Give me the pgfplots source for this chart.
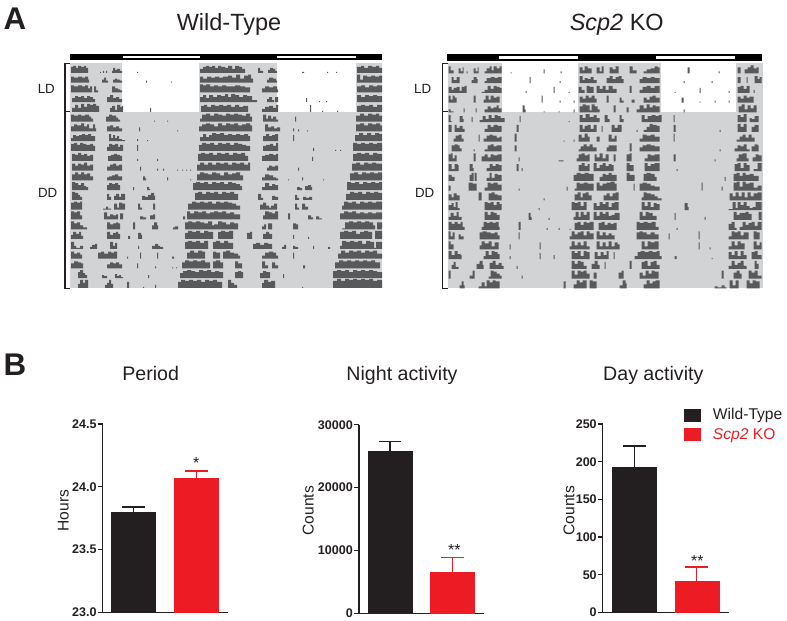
\documentclass[border=0pt]{standalone}
\usepackage{fontspec}
\setmainfont{Liberation Sans}
\usepackage{pgfplots}
\pgfplotsset{compat=1.18}
\definecolor{actogray}{HTML}{58595B}
\definecolor{bg}{HTML}{D1D3D4}
\definecolor{blk}{HTML}{231F20}
\definecolor{rd}{HTML}{ED1C24}
\makeatletter
\newif\ifRnew
\def\Rloop(#1,#2){\ifx\relax#1\else
  \ifRnew\xdef\Racc{\Racc(#1,0)(#1,#2)}\global\Rnewfalse
  \else\ifnum#2=0\relax\xdef\Racc{\Racc(#1,0)(#1,nan)}\global\Rnewtrue
  \else\xdef\Racc{\Racc(#1,#2)}\fi\fi
  \expandafter\Rloop\fi}
\newcommand\R[2]{\gdef\Racc{}\global\Rnewtrue\Rloop#2(\relax,0)%
  \edef\Rdo{\noexpand\addplot[fill=actogray,draw=none,const plot,forget plot,unbounded coords=jump,y filter/.expression={y-#1}] coordinates {\Racc};}\Rdo}
\makeatother
\newcommand\B[1]{\addplot[fill=#1,draw=none,forget plot]}
\pgfplotsset{actoaxis/.style={scale only axis,width=234pt,height=168.75pt,xmin=0,xmax=312,ymin=-225,ymax=0,axis lines=none,clip=false,anchor=south west},
 bars/.style={scale only axis,height=141.3pt,anchor=south west,axis x line=bottom,axis y line=left,axis line style={-,line width=0.95pt,blk},
  xtick=\empty,tick align=outside,major tick length=3.4pt,ytick style={line width=0.95pt,blk},
  yticklabel style={font=\bfseries\fontsize{9.4}{10}\selectfont,text=blk,inner sep=1pt},ymin=0,clip=false},
 errb/.style={error bars/.cd,y dir=plus,y explicit,error bar style={line width=1.0pt,#1},error mark options={rotate=90,mark size=8.5pt,line width=1.0pt,#1}}}
\begin{document}
\begin{tikzpicture}[x=0.75pt,y=0.75pt]
\path[use as bounding box] (0,0) rectangle (787,620);
\node[font=\bfseries\fontsize{23.5}{24}\selectfont,text=blk] at (15,601) {A};
\node[font=\bfseries\fontsize{23.5}{24}\selectfont,text=blk] at (15,255.5) {B};
\node[anchor=base,font=\fontsize{17.6}{20}\selectfont,text=blk] at (229,589) {Wild-Type};
\node[anchor=base,font=\fontsize{17.6}{20}\selectfont,text=blk] at (616.7,589) {\textit{Scp2} KO};
\foreach \xa/\xb in {46.3/47.7,422.7/424.7}{
\node[font=\fontsize{10}{12}\selectfont,text=blk] at (\xa,531) {LD};
\node[font=\fontsize{10}{12}\selectfont,text=blk] at (\xb,426.7) {DD};}
\draw[line width=1.05pt,blk] (70,556.7)--(65,556.7)--(65,331.5)--(70,331.5) (65,508.7)--(70,508.7);
\draw[line width=1.05pt,blk] (448,556.7)--(442.3,556.7)--(442.3,331.5)--(448,331.5) (442.3,508.7)--(448,508.7);
% ---- left actogram
\begin{axis}[actoaxis,at={(70,332)}]
\B{bg} coordinates {(0,0)(312,0)(312,-225)(0,-225)} --cycle;
\B{white} coordinates {(51.7,0)(129.3,0)(129.3,-48.9)(51.7,-48.9)} --cycle;
\B{white} coordinates {(206.7,0)(286,0)(286,-48.9)(206.7,-48.9)} --cycle;
\B{black} coordinates {(0,9)(312,9)(312,2.7)(0,2.7)} --cycle;
\B{white} coordinates {(53.3,7.2)(130,7.2)(130,4.8)(53.3,4.8)} --cycle;
\B{white} coordinates {(206.7,7.2)(286,7.2)(286,4.8)(206.7,4.8)} --cycle;
\R{9.8}{(1,6)(3,7)(6,5)(8,7)(11,6)(14,7)(16,5)(18,0)(30,1)(31,0)(33,2)(34,0)(36,2)(37,0)(42,2)(43,5)(45,3)(47,4)(50,2)(52,0)(67,1)(68,0)(130,4)(133,6)(136,7)(139,6)(142,7)(145,5)(148,7)(151,6)(155,5)(158,7)(162,4)(165,7)(169,6)(172,4)(175,0)(188,5)(190,2)(193,0)(198,3)(200,5)(203,4)(205,2)(207,0)(232,1)(234,0)(257,1)(258,0)(266,1)(267,0)(287,6)(291,7)(294,5)(298,7)(302,6)(306,7)(309,5)(312,0)}
\R{19.6}{(1,6)(4,5)(8,6)(12,5)(15,6)(18,3)(19,0)(32,3)(34,5)(36,2)(38,0)(43,3)(45,4)(47,3)(50,2)(52,0)(76,2)(77,0)(101,1)(102,0)(130,6)(133,4)(137,6)(141,5)(145,6)(149,5)(153,6)(158,7)(162,5)(166,8)(170,4)(174,7)(178,8)(181,4)(183,0)(197,3)(199,5)(203,4)(206,2)(207,0)(287,8)(290,3)(293,7)(297,6)(301,7)(305,6)(309,7)(312,0)}
\R{29.3}{(1,7)(4,6)(8,7)(12,6)(15,7)(18,4)(20,6)(22,0)(24,6)(26,2)(28,0)(42,6)(45,4)(48,3)(50,2)(52,0)(130,8)(133,7)(136,8)(140,6)(144,7)(148,6)(152,7)(156,6)(160,6)(165,7)(170,6)(175,5)(180,0)(192,4)(195,6)(199,5)(203,6)(207,3)(208,0)(287,6)(291,7)(295,5)(299,7)(303,6)(307,7)(312,0)}
\R{39.1}{(2,4)(5,6)(8,5)(11,6)(14,4)(17,6)(20,5)(23,3)(25,0)(37,5)(40,7)(43,4)(46,5)(49,3)(52,0)(130,5)(133,7)(136,4)(139,7)(143,5)(147,7)(151,6)(155,8)(158,5)(161,8)(165,7)(169,5)(173,7)(177,6)(182,2)(187,0)(197,3)(199,5)(202,2)(204,0)(205,5)(208,0)(236,4)(237,0)(249,1)(250,0)(256,1)(257,0)(287,7)(291,5)(295,7)(299,6)(303,7)(307,6)(312,0)}
\R{48.9}{(2,4)(5,7)(8,4)(11,8)(14,5)(17,8)(20,7)(23,8)(26,6)(29,0)(40,4)(42,6)(45,2)(47,7)(50,5)(52,6)(53,0)(80,4)(81,0)(131,6)(134,7)(137,5)(141,7)(145,6)(149,7)(153,6)(157,7)(161,5)(165,7)(169,5)(173,6)(178,0)(192,3)(195,5)(199,6)(203,4)(206,7)(208,0)(240,7)(241,0)(252,1)(253,0)(267,1)(268,0)(287,6)(291,7)(295,6)(299,7)(303,5)(307,7)(312,0)}
\R{58.7}{(1,7)(4,6)(8,7)(11,6)(15,7)(19,5)(21,3)(23,0)(36,5)(39,7)(42,6)(46,4)(48,2)(50,0)(84,1)(85,0)(97,1)(98,0)(130,3)(132,7)(136,8)(140,6)(144,8)(148,7)(152,6)(156,8)(160,7)(164,8)(168,7)(172,6)(176,8)(180,5)(182,0)(193,7)(196,3)(198,6)(201,3)(203,5)(206,2)(208,0)(225,5)(226,0)(286,6)(290,8)(294,6)(298,8)(302,7)(306,8)(309,6)(312,0)}
\R{68.5}{(1,5)(4,7)(7,6)(11,8)(14,5)(17,7)(19,3)(23,7)(25,3)(26,0)(37,5)(40,6)(43,4)(46,5)(49,3)(52,0)(69,4)(70,0)(107,1)(108,0)(129,5)(132,7)(136,8)(140,7)(144,5)(148,8)(152,6)(156,8)(160,7)(164,8)(168,6)(172,7)(176,8)(180,6)(182,0)(195,7)(198,4)(201,5)(204,3)(207,4)(210,0)(223,3)(224,0)(228,2)(229,0)(237,1)(238,0)(286,7)(290,8)(294,6)(298,8)(302,7)(306,8)(310,6)(312,0)}
\R{78.2}{(1,3)(3,6)(6,5)(9,6)(12,7)(15,6)(18,7)(21,5)(25,0)(39,7)(41,3)(43,6)(45,3)(47,5)(49,2)(52,1)(55,0)(67,2)(68,0)(77,1)(78,0)(130,4)(133,7)(136,4)(139,6)(142,8)(146,7)(150,8)(154,6)(158,7)(162,6)(166,7)(170,6)(174,7)(178,5)(180,0)(193,5)(196,7)(199,5)(202,6)(205,7)(208,0)(223,6)(224,0)(285,6)(289,8)(293,6)(297,8)(301,6)(305,8)(309,7)(312,0)}
\R{88}{(1,7)(4,8)(7,6)(10,8)(13,7)(16,6)(20,7)(23,5)(25,0)(37,4)(39,7)(42,6)(45,7)(48,4)(50,6)(53,0)(67,6)(68,0)(129,6)(132,8)(136,7)(140,8)(144,6)(148,8)(152,7)(156,8)(160,6)(164,8)(168,7)(172,6)(176,5)(180,0)(193,5)(196,6)(200,7)(203,5)(206,8)(208,0)(243,3)(244,0)(265,1)(266,0)(270,1)(271,0)(283,8)(287,7)(291,8)(295,7)(299,8)(303,7)(307,8)(312,0)}
\R{97.8}{(2,7)(5,6)(8,8)(11,6)(14,7)(17,5)(20,6)(23,0)(38,5)(41,6)(44,7)(47,6)(50,5)(52,0)(67,2)(68,0)(87,2)(88,0)(128,7)(131,8)(135,7)(139,8)(143,6)(147,8)(151,7)(155,8)(159,6)(163,8)(167,7)(171,8)(175,5)(178,0)(192,5)(195,6)(199,7)(203,6)(206,7)(208,0)(242,4)(243,0)(283,7)(287,8)(291,7)(295,8)(299,6)(303,8)(307,7)(312,0)}
\R{107.6}{(2,7)(5,5)(8,7)(11,6)(14,8)(17,5)(20,6)(23,0)(37,4)(40,6)(43,7)(46,5)(49,6)(52,0)(70,4)(71,0)(87,2)(88,0)(93,2)(94,0)(107,1)(108,0)(112,1)(113,0)(116,1)(117,0)(120,1)(121,0)(127,6)(130,8)(134,6)(138,8)(142,6)(146,8)(150,7)(154,8)(158,6)(162,8)(166,7)(170,8)(174,6)(178,8)(180,0)(197,3)(199,5)(202,4)(205,5)(208,0)(228,3)(229,0)(282,7)(286,8)(290,6)(294,8)(298,7)(302,8)(306,7)(312,0)}
\R{117.4}{(2,6)(5,8)(8,6)(11,8)(14,6)(17,7)(20,4)(23,0)(37,3)(39,4)(42,5)(45,6)(48,4)(52,0)(73,4)(75,2)(76,0)(97,3)(98,0)(120,1)(121,0)(127,6)(130,8)(134,7)(138,6)(142,8)(146,7)(150,5)(154,8)(158,6)(162,7)(166,8)(170,5)(173,0)(192,3)(195,6)(199,5)(203,3)(206,2)(208,0)(218,1)(219,0)(232,3)(233,0)(253,1)(254,0)(280,7)(284,8)(288,6)(292,8)(296,7)(300,8)(304,7)(308,8)(312,0)}
\R{127.1}{(2,8)(5,7)(8,5)(11,7)(14,4)(16,3)(18,0)(37,5)(39,7)(42,6)(45,7)(48,5)(50,0)(63,3)(64,0)(77,3)(79,1)(80,0)(123,7)(126,8)(130,7)(134,8)(138,6)(142,8)(146,7)(150,8)(154,6)(158,8)(162,7)(166,6)(170,4)(172,0)(192,3)(195,7)(199,4)(202,6)(205,5)(208,0)(227,3)(230,2)(232,0)(235,4)(238,5)(241,3)(242,0)(277,8)(281,7)(285,8)(289,6)(293,8)(297,7)(301,8)(305,7)(309,8)(312,0)}
\R{136.9}{(2,8)(5,7)(8,5)(10,3)(12,0)(37,6)(39,3)(41,0)(44,4)(46,6)(49,3)(51,6)(55,0)(72,4)(75,3)(78,5)(81,7)(84,4)(85,0)(125,7)(128,8)(132,6)(136,8)(140,7)(144,8)(148,6)(152,8)(156,7)(160,8)(164,6)(168,0)(188,6)(191,2)(193,0)(202,4)(205,3)(208,0)(225,5)(227,2)(229,0)(233,3)(236,2)(239,3)(242,0)(276,6)(280,8)(284,7)(288,8)(292,6)(296,8)(300,7)(304,8)(308,7)(312,0)}
\R{146.7}{(1,7)(4,8)(7,7)(10,8)(12,0)(33,1)(36,3)(38,1)(41,0)(44,6)(47,2)(49,7)(52,6)(55,0)(68,6)(70,2)(72,0)(83,6)(85,0)(118,6)(122,8)(126,7)(130,8)(134,7)(138,8)(142,6)(146,8)(150,7)(154,8)(158,7)(162,6)(166,4)(170,0)(190,5)(193,7)(196,4)(199,2)(201,4)(204,6)(207,0)(225,6)(227,2)(229,0)(232,6)(235,3)(238,0)(272,4)(274,8)(278,7)(282,8)(286,6)(290,8)(294,7)(298,8)(302,7)(306,8)(312,0)}
\R{156.5}{(1,8)(4,7)(7,8)(10,4)(12,0)(34,7)(37,3)(40,5)(43,4)(46,5)(48,0)(50,6)(53,0)(70,3)(73,2)(76,0)(80,4)(83,5)(85,0)(113,3)(115,0)(117,8)(120,6)(124,8)(128,7)(132,8)(136,6)(140,7)(144,8)(148,7)(152,8)(156,6)(160,7)(164,5)(170,0)(193,4)(195,8)(199,7)(202,6)(205,8)(208,0)(218,6)(220,0)(238,4)(241,2)(243,0)(246,3)(249,1)(252,0)(270,6)(274,8)(278,7)(282,8)(286,6)(290,7)(294,6)(298,7)(302,6)(306,7)(312,0)}
\R{166.3}{(1,8)(4,6)(7,7)(10,4)(13,2)(17,0)(37,7)(40,5)(43,6)(46,7)(48,6)(50,0)(63,7)(65,0)(82,4)(84,7)(87,4)(88,0)(103,2)(105,3)(108,0)(115,7)(118,8)(122,7)(126,8)(130,7)(134,6)(138,8)(142,4)(144,5)(148,8)(152,7)(156,5)(160,7)(164,6)(168,0)(192,3)(194,5)(196,0)(198,6)(202,0)(223,6)(226,5)(228,0)(272,1)(275,7)(279,8)(283,7)(287,8)(291,7)(295,8)(299,7)(303,4)(305,0)(307,7)(312,0)}
\R{176}{(1,4)(3,7)(6,5)(9,7)(11,3)(13,0)(37,7)(40,4)(43,6)(46,7)(48,5)(50,0)(58,3)(60,0)(68,6)(71,4)(72,0)(115,6)(118,8)(122,7)(126,8)(130,6)(134,8)(138,7)(143,0)(148,7)(151,8)(155,7)(159,8)(163,0)(177,6)(180,7)(182,0)(193,5)(196,7)(199,5)(202,0)(223,4)(224,0)(238,2)(239,0)(270,7)(274,8)(278,7)(282,8)(286,5)(290,7)(294,8)(298,7)(302,0)(305,8)(312,0)}
\R{185.8}{(1,7)(4,3)(6,1)(10,3)(13,0)(20,2)(22,4)(25,5)(27,0)(40,7)(43,3)(45,6)(47,0)(68,3)(69,0)(82,3)(85,5)(88,3)(90,2)(93,0)(115,7)(118,8)(122,7)(126,8)(130,6)(134,8)(138,0)(143,7)(146,8)(150,6)(154,8)(158,6)(163,0)(183,5)(186,6)(190,4)(194,6)(198,5)(202,0)(212,2)(214,4)(216,0)(223,3)(225,2)(228,0)(243,3)(244,0)(258,2)(260,0)(270,3)(272,8)(276,7)(280,8)(284,7)(288,8)(292,5)(296,8)(300,7)(304,1)(306,7)(312,0)}
\R{195.6}{(1,7)(4,5)(7,6)(10,4)(12,0)(28,6)(31,7)(34,5)(38,7)(41,6)(44,7)(47,0)(57,2)(58,0)(70,6)(71,0)(87,6)(88,0)(102,2)(104,0)(117,6)(120,8)(124,6)(128,8)(132,7)(135,0)(143,7)(146,6)(150,0)(153,7)(156,8)(160,6)(164,5)(168,3)(170,0)(192,3)(195,6)(199,7)(203,6)(206,3)(208,0)(223,6)(224,0)(268,5)(271,8)(275,6)(279,8)(283,7)(287,8)(291,6)(295,8)(299,7)(303,8)(307,5)(312,0)}
\R{205.4}{(1,5)(4,7)(8,6)(11,5)(13,0)(37,4)(40,6)(43,5)(46,6)(49,4)(52,0)(67,5)(68,0)(85,2)(86,0)(102,1)(103,0)(106,1)(107,0)(112,6)(115,8)(119,7)(123,8)(127,7)(131,8)(135,6)(140,0)(143,7)(146,8)(150,6)(153,0)(165,7)(168,5)(172,0)(192,7)(195,3)(198,0)(202,6)(205,3)(208,0)(233,3)(235,0)(265,6)(269,8)(273,7)(277,8)(281,7)(285,8)(289,7)(293,8)(297,7)(301,8)(305,6)(310,0)}
\R{215.2}{(8,6)(10,8)(13,5)(15,3)(17,0)(32,3)(34,2)(37,0)(45,4)(47,2)(49,3)(51,1)(53,0)(78,3)(79,0)(110,5)(113,7)(117,8)(121,7)(125,6)(129,8)(133,7)(137,8)(141,6)(145,7)(149,6)(153,0)(165,6)(168,7)(171,6)(173,0)(190,5)(193,7)(196,6)(200,0)(213,4)(214,0)(263,7)(267,8)(271,7)(275,8)(279,6)(283,8)(287,7)(291,8)(295,7)(299,8)(303,7)(307,6)(312,0)}
\R{225}{(8,4)(10,8)(13,5)(15,8)(18,0)(35,3)(37,5)(39,8)(41,4)(43,0)(57,6)(59,0)(73,1)(74,0)(85,3)(86,0)(108,6)(111,8)(115,7)(119,8)(123,7)(127,8)(131,6)(135,8)(139,7)(143,8)(147,6)(152,0)(158,8)(161,5)(164,3)(167,0)(192,5)(194,8)(198,6)(201,7)(205,0)(232,1)(233,0)(263,7)(267,9)(271,7)(275,9)(279,8)(283,9)(287,8)(291,9)(295,8)(299,9)(303,7)(307,8)(312,0)}
\end{axis}
% ---- right actogram
\begin{axis}[actoaxis,at={(447.7,331.5)},width=236.25pt,xmax=315]
\B{bg} coordinates {(0,0)(315,0)(315,-225)(0,-225)} --cycle;
\B{white} coordinates {(54.7,0)(130.7,0)(130.7,-48.9)(54.7,-48.9)} --cycle;
\B{white} coordinates {(213.3,0)(288.3,0)(288.3,-48.9)(213.3,-48.9)} --cycle;
\B{black} coordinates {(-1,9)(314.6,9)(314.6,2.7)(-1,2.7)} --cycle;
\B{white} coordinates {(51.7,7.2)(130,7.2)(130,4.8)(51.7,4.8)} --cycle;
\B{white} coordinates {(208.7,7.2)(287,7.2)(287,4.8)(208.7,4.8)} --cycle;
\R{9.8}{(1,7)(3,3)(6,0)(11,5)(13,2)(15,6)(16,0)(19,2)(20,0)(26,5)(28,2)(30,6)(31,0)(37,2)(39,5)(42,7)(44,3)(46,7)(49,5)(52,7)(54,0)(63,1)(64,0)(96,4)(97,0)(113,2)(114,0)(132,6)(135,3)(137,7)(140,5)(144,0)(149,6)(152,2)(154,7)(156,0)(162,6)(165,4)(168,7)(171,0)(182,7)(185,3)(189,0)(196,2)(199,4)(203,5)(207,7)(210,6)(212,0)(240,6)(242,0)(271,2)(272,0)(290,6)(293,0)(297,4)(300,6)(303,8)(306,5)(309,6)(311,0)}
\R{19.6}{(4,6)(6,3)(9,6)(12,0)(24,3)(26,6)(29,4)(30,0)(37,2)(39,5)(43,6)(47,5)(50,6)(54,0)(82,6)(83,0)(112,2)(113,0)(132,7)(135,3)(137,5)(140,4)(143,6)(146,3)(149,0)(159,5)(162,7)(165,4)(168,6)(171,7)(174,4)(176,0)(192,4)(195,6)(199,5)(203,6)(207,5)(212,0)(236,2)(237,0)(264,2)(265,0)(290,6)(293,0)(299,6)(300,0)(307,7)(310,4)(312,6)(314,0)}
\R{29.3}{(1,6)(4,3)(6,5)(9,6)(12,2)(14,6)(17,7)(19,0)(34,1)(37,3)(40,7)(43,4)(46,7)(49,6)(52,5)(54,0)(78,2)(79,0)(106,6)(107,0)(121,1)(122,0)(131,6)(134,3)(137,0)(139,7)(142,6)(146,0)(149,7)(152,4)(155,7)(158,3)(161,7)(165,4)(169,0)(182,7)(184,0)(192,3)(195,6)(199,7)(203,5)(207,7)(212,0)(227,1)(228,0)(252,5)(253,0)(281,2)(282,0)(290,6)(293,7)(296,4)(299,7)(302,0)(306,3)(307,0)}
\R{39.1}{(1,7)(3,3)(5,7)(7,5)(9,0)(26,7)(28,0)(36,3)(38,7)(41,3)(43,7)(46,5)(49,6)(52,0)(94,7)(95,0)(112,2)(113,0)(126,2)(127,0)(132,6)(135,4)(138,7)(141,5)(144,7)(147,4)(149,0)(159,7)(161,0)(172,5)(174,2)(176,0)(184,3)(187,0)(196,5)(199,3)(202,6)(205,7)(208,5)(212,0)(234,5)(236,0)(252,1)(253,0)(267,2)(268,0)(281,2)(282,0)(290,6)(293,4)(296,7)(299,5)(302,6)(306,0)}
\R{48.9}{(1,3)(3,1)(6,0)(16,4)(17,0)(28,4)(29,0)(37,3)(40,6)(43,4)(46,5)(49,7)(51,4)(54,0)(75,7)(77,3)(78,0)(96,1)(97,0)(111,1)(112,0)(126,3)(127,0)(132,6)(135,8)(138,7)(142,2)(144,8)(147,6)(150,3)(152,0)(166,7)(168,0)(179,5)(181,0)(189,3)(192,7)(196,4)(199,8)(202,5)(205,7)(208,6)(212,0)(236,3)(237,0)(291,6)(294,8)(297,3)(300,7)(303,4)(306,7)(309,0)}
\R{58.7}{(1,7)(3,1)(4,0)(12,6)(15,3)(16,0)(24,5)(25,0)(32,2)(35,6)(38,3)(41,7)(44,4)(47,7)(50,6)(53,4)(57,0)(72,6)(73,0)(121,1)(122,0)(132,7)(135,4)(138,8)(142,5)(146,7)(149,4)(152,0)(157,7)(160,3)(162,0)(172,7)(174,3)(176,0)(194,7)(197,3)(200,6)(204,7)(208,6)(211,7)(214,0)(226,7)(227,0)(290,7)(293,5)(296,8)(299,0)(302,4)(304,3)(307,6)(311,0)}
\R{68.5}{(1,7)(4,0)(7,7)(9,4)(12,6)(15,3)(17,0)(37,3)(40,7)(43,5)(46,7)(50,6)(54,0)(69,7)(71,0)(132,7)(135,3)(137,6)(140,7)(143,3)(146,7)(149,0)(154,6)(155,0)(164,7)(167,4)(170,7)(174,0)(189,2)(190,0)(196,2)(199,5)(202,8)(205,7)(209,6)(212,0)(226,7)(228,0)(272,2)(273,0)(290,8)(293,5)(296,8)(299,0)(304,5)(307,7)(311,0)}
\R{78.2}{(6,3)(8,6)(11,7)(14,3)(16,0)(31,7)(32,0)(36,3)(39,6)(42,7)(45,6)(49,4)(52,5)(54,0)(67,8)(69,0)(116,1)(117,0)(126,2)(127,0)(131,7)(134,4)(137,8)(140,5)(142,0)(149,5)(152,0)(161,7)(164,3)(167,6)(169,0)(192,3)(195,7)(199,6)(203,7)(207,5)(212,0)(226,8)(227,0)(289,2)(292,5)(295,7)(298,4)(301,7)(304,4)(307,0)}
\R{88}{(4,6)(7,7)(10,6)(12,3)(14,0)(26,2)(27,0)(37,2)(40,6)(43,7)(46,5)(49,6)(54,0)(67,6)(69,0)(131,2)(133,5)(136,7)(139,5)(142,7)(145,4)(149,0)(159,4)(161,6)(164,6)(167,6)(169,0)(182,8)(184,0)(192,4)(195,6)(199,7)(203,6)(207,5)(212,0)(272,2)(273,0)(287,3)(290,6)(293,5)(296,7)(299,2)(302,0)(304,5)(307,7)(310,6)(311,0)}
\R{97.8}{(1,7)(3,8)(5,3)(7,6)(9,0)(26,8)(28,0)(34,5)(37,7)(40,4)(43,7)(46,6)(50,7)(54,0)(71,4)(72,0)(111,1)(114,1)(116,0)(129,3)(131,7)(134,8)(137,6)(140,7)(142,0)(147,7)(149,4)(152,8)(155,3)(158,7)(161,0)(166,7)(168,0)(179,7)(182,8)(184,0)(197,3)(200,7)(203,6)(207,7)(212,0)(226,7)(228,0)(267,2)(268,0)(289,3)(291,7)(295,8)(299,3)(301,0)(305,4)(308,7)(311,6)(314,0)}
\R{107.6}{(1,7)(4,2)(7,7)(10,6)(11,0)(22,7)(25,3)(26,0)(39,3)(42,7)(45,5)(48,7)(51,6)(54,0)(69,7)(71,0)(74,3)(75,0)(131,6)(134,8)(137,5)(140,7)(142,0)(146,8)(149,3)(152,6)(155,8)(158,5)(161,7)(164,6)(166,0)(179,8)(182,6)(186,0)(197,8)(200,5)(203,7)(207,8)(212,0)(229,2)(230,0)(287,7)(290,8)(293,3)(296,8)(299,6)(302,0)(306,2)(310,8)(314,0)}
\R{117.4}{(1,6)(4,4)(7,0)(22,6)(24,8)(26,0)(27,8)(29,0)(39,3)(42,8)(44,3)(47,7)(50,6)(54,0)(126,6)(129,8)(133,7)(137,8)(141,7)(146,0)(152,4)(155,7)(158,6)(161,8)(164,6)(169,0)(179,8)(182,6)(187,0)(196,7)(199,8)(203,7)(207,4)(209,0)(277,4)(278,0)(286,7)(289,8)(292,5)(295,8)(298,6)(302,7)(306,5)(311,0)}
\R{127.1}{(1,5)(3,0)(21,8)(25,7)(29,0)(37,3)(40,8)(43,7)(46,8)(50,6)(54,0)(71,2)(72,0)(119,4)(120,0)(127,2)(129,8)(132,7)(136,8)(140,7)(146,0)(149,8)(152,5)(155,7)(159,8)(163,9)(167,7)(169,0)(186,7)(187,0)(192,7)(195,8)(199,7)(203,5)(207,4)(212,0)(254,8)(255,0)(274,4)(275,0)(286,8)(289,9)(292,4)(295,9)(298,7)(302,8)(306,3)(310,5)(314,0)}
\R{136.9}{(1,6)(4,3)(6,7)(9,5)(12,0)(31,8)(34,0)(41,7)(44,8)(47,6)(50,5)(54,0)(96,2)(97,0)(127,6)(130,8)(133,3)(135,7)(138,8)(141,5)(144,0)(156,5)(159,7)(162,4)(165,7)(168,8)(171,0)(194,3)(196,8)(199,7)(203,6)(207,4)(210,2)(214,0)(282,7)(285,4)(288,8)(291,4)(294,8)(297,3)(300,8)(303,4)(306,7)(310,8)(314,0)}
\R{146.7}{(1,5)(4,7)(6,3)(8,8)(10,2)(12,0)(37,8)(40,7)(43,8)(46,5)(49,8)(52,6)(54,0)(91,2)(92,0)(124,8)(127,7)(130,8)(133,4)(136,8)(139,0)(146,7)(149,4)(152,8)(155,6)(158,8)(161,3)(164,7)(167,8)(171,0)(194,8)(197,4)(200,8)(203,3)(206,7)(209,6)(212,0)(237,7)(240,3)(241,0)(281,1)(285,8)(288,2)(290,8)(293,5)(296,8)(299,4)(302,2)(305,3)(308,8)(314,0)}
\R{156.5}{(1,3)(3,7)(6,4)(9,8)(11,3)(14,0)(37,8)(40,5)(43,8)(46,7)(49,5)(52,0)(81,7)(83,3)(84,0)(101,2)(102,0)(126,3)(128,8)(131,3)(133,8)(136,5)(139,8)(142,0)(146,8)(149,4)(152,8)(155,6)(158,8)(161,4)(164,5)(167,7)(172,0)(192,8)(195,4)(198,8)(201,7)(205,4)(209,0)(227,7)(228,0)(257,3)(258,0)(286,8)(289,5)(292,7)(295,7)(298,8)(301,6)(304,0)(311,8)(314,0)}
\R{166.3}{(1,8)(4,6)(7,8)(10,6)(13,8)(15,3)(17,0)(34,3)(36,8)(39,7)(42,8)(45,7)(48,8)(51,3)(52,0)(71,8)(73,0)(99,2)(100,0)(111,2)(112,0)(122,1)(123,0)(127,7)(130,8)(133,5)(136,8)(139,7)(142,8)(146,0)(151,7)(154,8)(157,5)(160,7)(163,6)(166,7)(169,0)(189,8)(192,7)(196,8)(200,7)(204,8)(208,3)(211,0)(229,2)(230,0)(281,6)(284,8)(287,2)(289,0)(292,3)(295,8)(298,5)(301,7)(304,8)(307,4)(310,8)(314,0)}
\R{176}{(1,8)(3,3)(5,7)(7,0)(11,5)(13,3)(16,0)(32,7)(35,8)(39,7)(43,6)(47,7)(50,4)(52,0)(71,7)(72,0)(122,3)(124,8)(127,5)(130,7)(133,8)(136,4)(139,8)(142,6)(146,0)(149,8)(152,4)(155,7)(158,4)(161,6)(164,4)(167,0)(189,7)(192,8)(195,7)(199,5)(203,7)(207,5)(211,0)(221,6)(222,0)(251,8)(252,0)(281,3)(284,8)(287,7)(290,8)(293,4)(296,7)(301,0)(306,8)(309,7)(312,0)}
\R{185.8}{(1,8)(3,5)(6,0)(32,4)(34,8)(37,6)(41,8)(44,3)(47,7)(51,0)(62,5)(63,0)(92,7)(93,0)(122,3)(124,8)(127,4)(130,7)(133,4)(136,8)(139,3)(142,0)(149,8)(152,3)(155,7)(158,3)(161,8)(164,3)(167,7)(170,5)(172,0)(194,8)(197,3)(200,8)(203,7)(207,8)(211,0)(251,7)(252,0)(262,2)(263,0)(281,3)(284,8)(287,4)(290,8)(293,6)(297,0)(306,8)(309,4)(312,7)(314,0)}
\R{195.6}{(1,8)(4,4)(7,8)(10,5)(13,4)(14,0)(36,3)(38,8)(41,4)(44,8)(47,7)(50,5)(52,0)(62,3)(63,0)(92,6)(93,0)(106,4)(107,0)(124,8)(127,6)(130,8)(133,3)(136,8)(139,7)(142,0)(147,7)(150,3)(153,7)(156,4)(159,8)(161,0)(166,7)(167,0)(187,3)(190,7)(193,8)(197,7)(201,8)(205,7)(209,8)(212,3)(214,0)(227,3)(229,0)(264,1)(265,0)(281,7)(284,4)(287,8)(290,3)(293,8)(296,4)(299,0)(304,7)(307,8)(310,4)(314,0)}
\R{205.4}{(4,4)(6,7)(8,2)(11,0)(29,5)(32,8)(35,4)(36,0)(42,6)(45,8)(48,4)(51,6)(54,3)(56,0)(69,3)(70,0)(124,8)(127,5)(130,8)(133,7)(136,3)(139,0)(144,5)(147,8)(150,4)(152,0)(157,7)(158,0)(182,8)(184,0)(194,7)(197,8)(200,3)(203,7)(206,8)(209,4)(212,0)(281,3)(284,8)(287,4)(290,6)(293,8)(296,3)(299,0)(307,8)(309,5)(311,0)}
\R{215.2}{(1,8)(3,0)(22,3)(25,8)(27,0)(41,2)(43,8)(46,7)(49,5)(52,3)(54,0)(74,3)(75,0)(124,8)(127,4)(130,8)(133,7)(136,8)(139,5)(142,0)(146,6)(149,0)(171,6)(174,8)(176,0)(192,6)(195,3)(198,8)(201,5)(204,8)(207,7)(211,0)(274,8)(276,0)(286,6)(289,8)(292,5)(294,0)(301,8)(304,6)(307,8)(310,3)(314,0)}
\R{225}{(12,3)(14,7)(16,3)(17,0)(31,2)(34,6)(37,2)(39,8)(42,6)(45,8)(48,7)(52,0)(116,7)(118,0)(126,4)(129,8)(132,6)(135,8)(139,0)(142,8)(145,7)(149,0)(172,3)(175,8)(178,5)(179,0)(196,4)(199,8)(202,5)(205,7)(208,8)(212,0)(267,2)(270,1)(274,3)(277,1)(279,0)(282,8)(285,3)(288,8)(291,0)(299,8)(302,5)(305,8)(308,7)(312,0)}
\end{axis}
% ---- Period
\begin{axis}[bars,at={(102.7,6)},width=94pt,xmin=0,xmax=125.3,ymin=23,ymax=24.5,ytick={23,23.5,24,24.5},yticklabels={23.0,23.5,24.0,24.5}]
\addplot[ybar,bar width=33pt,bar shift=0pt,fill=blk,draw=blk,errb=blk] coordinates {(31,23.8) +- (0,0.04)};
\addplot[ybar,bar width=33pt,bar shift=0pt,fill=rd,draw=rd,errb=rd] coordinates {(93.6,24.07) +- (0,0.055)};
\end{axis}
% ---- Night
\begin{axis}[bars,at={(360,10.8)},width=94pt,xmin=0,xmax=125.7,ymax=30000,ytick={0,10000,20000,30000},yticklabels={0,10000,20000,30000},scaled y ticks=false]
\addplot[ybar,bar width=33pt,bar shift=0pt,fill=blk,draw=blk,errb=blk] coordinates {(31,25750) +- (0,1590)};
\addplot[ybar,bar width=33pt,bar shift=0pt,fill=rd,draw=rd,errb=rd] coordinates {(93.7,6480) +- (0,2390)};
\end{axis}
% ---- Day
\begin{axis}[bars,at={(603,10)},width=94.7pt,xmin=0,xmax=126.3,ymax=250,ytick={0,50,100,150,200,250},yticklabels={0,50,100,150,200,250},
 legend image code/.code={\fill[#1] (0pt,-4.4pt) rectangle (12pt,4.4pt);},
 legend style={at={(0.641,1.083)},anchor=north west,draw=none,fill=none,inner sep=0pt,outer sep=0pt,row sep=4.8pt,font=\fontsize{11.7}{13}\selectfont,legend cell align=left,nodes={inner sep=0pt}}]
\addplot[ybar,bar width=33pt,bar shift=0pt,fill=blk,draw=blk,errb=blk] coordinates {(31.7,192.9) +- (0,27.9)};
\addlegendentry{\hspace{9.5pt}\textcolor{blk}{Wild-Type}}
\addplot[ybar,bar width=33pt,bar shift=0pt,fill=rd,draw=rd,errb=rd] coordinates {(94,41.7) +- (0,18.5)};
\addlegendentry{\hspace{9.5pt}\textcolor{rd}{\textit{Scp2} KO}}
\end{axis}
\foreach \t/\x in {Period/150.7,Night activity/402,Day activity/653.3}
\node[anchor=base,font=\fontsize{14.7}{16}\selectfont,text=blk] at (\x,239.3) {\t};
\node[rotate=90,font=\fontsize{11.7}{13}\selectfont,text=blk] at (63.3,109.3) {Hours};
\node[rotate=90,font=\fontsize{11.7}{13}\selectfont,text=blk] at (308.3,109.3) {Counts};
\node[rotate=90,font=\fontsize{11.7}{13}\selectfont,text=blk] at (569,109.3) {Counts};
\foreach \t/\x/\y in {*/196.3/157,**/454.3/70,**/697.3/59}
\node[font=\fontsize{12}{14}\selectfont,text=blk] at (\x,\y) {\t};
\end{tikzpicture}
\end{document}
